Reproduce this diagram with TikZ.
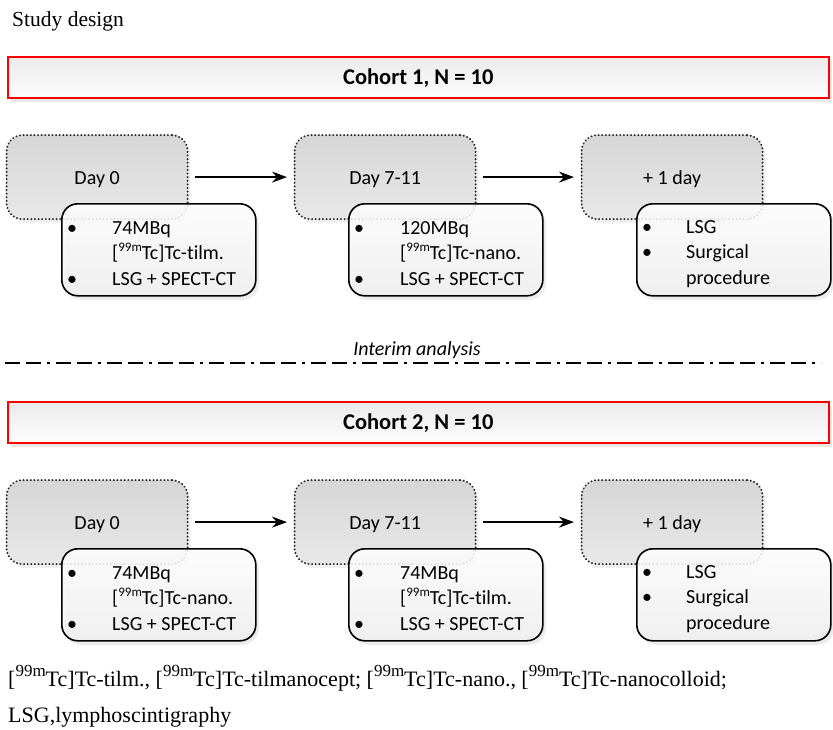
\documentclass[tikz,border=0pt]{standalone}
\usepackage{fontspec}
\setmainfont{Liberation Serif}
\newfontfamily\carlito[Ligatures=NoCommon]{Carlito}
\usetikzlibrary{shadows,arrows.meta,calc}
\newcommand\supc[1]{\raisebox{0.42em}{\fontsize{13}{13}\selectfont #1}}
\newcommand\supt[1]{\raisebox{0.42em}{\fontsize{17}{17}\selectfont #1}}
\begin{document}
\begin{tikzpicture}[x=1pt,y=-1pt,
  cohortbox/.style={draw=red, line width=2.6pt, top color=black!8, bottom color=black!1,
    minimum width=821pt, minimum height=41pt, anchor=north west, inner sep=0pt,
    font=\carlito\bfseries\fontsize{22.5}{27}\selectfont, text height=15pt, text depth=0pt,
    drop shadow={opacity=0.18, shadow xshift=3pt, shadow yshift=-4pt}},
  daybox/.style={draw=black!85, line width=2.2pt, dash pattern=on 0.01pt off 3.6pt, line cap=round,
    rounded corners=16pt, top color=black!16, bottom color=black!9,
    minimum width=181pt, minimum height=84pt, anchor=north west, inner sep=0pt,
    font=\carlito\fontsize{20}{25}\selectfont, text height=15pt, text depth=0pt,
    drop shadow={opacity=0.12, shadow xshift=3pt, shadow yshift=-4pt}},
  infobox/.style={draw=black, line width=1.6pt, rounded corners=16pt,
    top color=white, bottom color=black!6, fill opacity=0.86, draw opacity=1,
    minimum width=194pt, minimum height=92pt, anchor=north west, inner sep=0pt,
    drop shadow={opacity=0.15, shadow xshift=3pt, shadow yshift=-4pt}},
  infotext/.style={anchor=base west, inner sep=0pt, align=left,
    font=\carlito\fontsize{20}{25.5}\selectfont},
  flowarrow/.style={line width=1.6pt, -{Stealth[length=15pt,width=11pt]}, shorten <=6pt, shorten >=6.5pt},
  dashdotline/.style={line width=1.8pt, dash pattern=on 15pt off 6pt on 15pt off 6pt on 3pt off 6pt},
  serifnote/.style={anchor=base west, inner sep=0pt, align=left},
]
\useasboundingbox (0,0) rectangle (833,729);

% title
\node[serifnote, font=\fontsize{21.5}{26}\selectfont] (title) at (12,26) {Study design};

% cohort 1
\node[cohortbox] (c1) at (6.5,55.5) {Cohort 1, N = 10};

\node[daybox] (d11) at (5.5,134) {Day 0};
\node[daybox] (d12) at (293.5,134) {Day 7-11};
\node[daybox] (d13) at (580.5,134) {+ 1 day};

\node[infobox] (i11) at (61,203) {};
\node[infobox] (i12) at (348,203) {};
\node[infobox] (i13) at (636,203) {};

\node[infotext] (t11) at ($(i11.north west)+(6,31)$)
  {\begin{tabular}[t]{@{}p{45pt}@{}l@{}}•&74MBq\\ &[\supc{99m}Tc]Tc-tilm.\\ •&LSG + SPECT-CT\end{tabular}};
\node[infotext] (t12) at ($(i12.north west)+(6,31)$)
  {\begin{tabular}[t]{@{}p{46pt}@{}l@{}}•&120MBq\\ &[\supc{99m}Tc]Tc-nano.\\ •&LSG + SPECT-CT\end{tabular}};
\node[infotext] (t13) at ($(i13.north west)+(6,30)$)
  {\begin{tabular}[t]{@{}p{44pt}@{}l@{}}•&LSG\\ •&Surgical\\ &procedure\end{tabular}};

\draw[flowarrow] (d11) -- (d12);
\draw[flowarrow] (d12) -- (d13);

% interim
\node[anchor=base, inner sep=0pt, font=\carlito\itshape\fontsize{20}{24}\selectfont] (interim) at (417,355) {Interim analysis};
\coordinate (lineL) at (5,363);
\coordinate (lineR) at (821,363);
\draw[dashdotline] (lineL) -- (lineR);

% cohort 2
\node[cohortbox] (c2) at (6.5,400.5) {Cohort 2, N = 10};

\node[daybox] (d21) at (5.5,479) {Day 0};
\node[daybox] (d22) at (293.5,479) {Day 7-11};
\node[daybox] (d23) at (580.5,479) {+ 1 day};

\node[infobox] (i21) at (61,548) {};
\node[infobox] (i22) at (348,548) {};
\node[infobox] (i23) at (636,548) {};

\node[infotext] (t21) at ($(i21.north west)+(6,31)$)
  {\begin{tabular}[t]{@{}p{45pt}@{}l@{}}•&74MBq\\ &[\supc{99m}Tc]Tc-nano.\\ •&LSG + SPECT-CT\end{tabular}};
\node[infotext] (t22) at ($(i22.north west)+(6,31)$)
  {\begin{tabular}[t]{@{}p{46pt}@{}l@{}}•&74MBq\\ &[\supc{99m}Tc]Tc-tilm.\\ •&LSG + SPECT-CT\end{tabular}};
\node[infotext] (t23) at ($(i23.north west)+(6,30)$)
  {\begin{tabular}[t]{@{}p{44pt}@{}l@{}}•&LSG\\ •&Surgical\\ &procedure\end{tabular}};

\draw[flowarrow] (d21) -- (d22);
\draw[flowarrow] (d22) -- (d23);

% footnote
\node[serifnote, font=\fontsize{22}{36}\selectfont] (note) at (8,722)
  {[\supt{99m}Tc]Tc-tilm., [\supt{99m}Tc]Tc-tilmanocept; [\supt{99m}Tc]Tc-nano., [\supt{99m}Tc]Tc-nanocolloid;\\
   LSG,lymphoscintigraphy};
\end{tikzpicture}
\end{document}
